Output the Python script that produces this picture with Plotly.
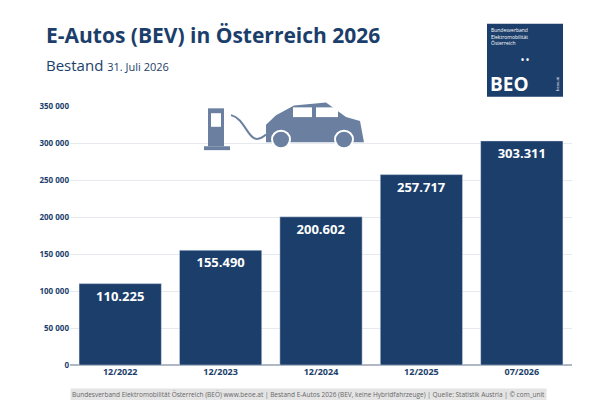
import plotly.graph_objects as go

categories = ["12/2022", "12/2023", "12/2024", "12/2025", "07/2026"]
values = [110225, 155490, 200602, 257717, 303311]
value_labels = ["110.225", "155.490", "200.602", "257.717", "303.311"]
tick_vals = [0, 50000, 100000, 150000, 200000, 250000, 300000, 350000]
tick_text = ["0", "50 000", "100 000", "150 000", "200 000", "250 000", "300 000", "350 000"]

navy = "#1b3e6b"
fig = go.Figure(go.Bar(
    x=categories, y=values, marker_color=navy, text=value_labels,
    textposition="inside", insidetextanchor="end", texttemplate="<b>%{text}</b>",
    textfont=dict(color="white", size=13, family="Open Sans"),
))
fig.update_layout(
    width=600, height=400, plot_bgcolor="white", paper_bgcolor="white",
    margin=dict(l=0, r=0, t=0, b=0), bargap=0.18, showlegend=False,
    font=dict(family="Open Sans", color=navy),
    xaxis=dict(domain=[62/600, 564/600], tickfont=dict(size=9, color=navy), showgrid=False, ticks="",
               tickvals=categories, ticktext=[f"<b>{c}</b>" for c in categories]),
    yaxis=dict(domain=[1-361/400, 1-95/400], range=[0, 350000], tickvals=tick_vals,
               ticktext=[f"<b>{t}</b>" for t in tick_text],
               tickfont=dict(size=8, color=navy), gridcolor="#e6e9ee",
               zeroline=True, zerolinecolor="#b0b8c4"),
    uniformtext=dict(minsize=13, mode="show"),
)

def px(x, y):
    return x / 600, 1 - y / 400

anns = [
    dict(text="<b>E-Autos (BEV) in Österreich 2026</b>", pos=(36, 22), font=dict(size=21, color=navy)),
    dict(text="Bestand <span style='font-size:11px'>31. Juli 2026</span>", pos=(36, 52), font=dict(size=15, color=navy)),
    dict(text="Bundesverband Elektromobilität Österreich (BEÖ) www.beoe.at | Bestand E-Autos 2026 (BEV, keine Hybridfahrzeuge) | Quelle: Statistik Austria | © com_unit",
         pos=(300, 391), xanchor="center", font=dict(size=6.5, color="#666"), bgcolor="#e4e4e4"),
    dict(text="Bundesverband<br>Elektromobilität<br>Österreich", pos=(481, 11), yanchor="top",
         font=dict(size=5, color="white"), align="left"),
    dict(text="<b>• •</b>", pos=(517, 47), xanchor="center", font=dict(size=8, color="white")),
    dict(text="<b>BEO</b>", pos=(480, 72), font=dict(size=19, color="white")),
    dict(text="beoe.at", pos=(549, 72), textangle=-90, xanchor="center", font=dict(size=4, color="white")),
]
for a in anns:
    x, y = px(*a.pop("pos"))
    a.setdefault("xanchor", "left")
    a.setdefault("yanchor", "middle")
    fig.add_annotation(xref="paper", yref="paper", showarrow=False, x=x, y=y, **a)

shapes = []
def rect(x0, y0, x1, y1, color):
    a, b = px(x0, y0); c, d = px(x1, y1)
    shapes.append(dict(type="rect", x0=a, y0=d, x1=c, y1=b, fillcolor=color, line_width=0))
rect(479, 10, 555, 85, navy)
icon = "#6b80a0"
rect(200, 97, 216, 136, icon)
rect(196, 136, 222, 140, icon)
rect(203, 102, 213, 116, "white")
p = [px(223, 104), px(240, 108), px(240, 140), px(258, 124)]
shapes.append(dict(type="path", path=f"M {p[0][0]},{p[0][1]} C {p[1][0]},{p[1][1]} {p[2][0]},{p[2][1]} {p[3][0]},{p[3][1]}",
                   line=dict(color=icon, width=2)))
pts = [(258, 132), (258, 114), (268, 104), (286, 94), (318, 91), (338, 106), (352, 110), (356, 132)]
path = "M " + " L ".join(f"{px(x,y)[0]},{px(x,y)[1]}" for x, y in pts) + " Z"
shapes.append(dict(type="path", path=path, fillcolor=icon, line_width=0))
for cx in (273, 336):
    a, b = px(cx - 9, 120); c, d = px(cx + 9, 138)
    shapes.append(dict(type="circle", x0=a, y0=d, x1=c, y1=b, fillcolor=icon, line=dict(color="white", width=2)))
rect(285, 96, 304, 106, "white")
rect(308, 96, 330, 106, "white")
for s in shapes:
    s.update(xref="paper", yref="paper")
    fig.add_shape(**s)
fig.write_html("out.html")
